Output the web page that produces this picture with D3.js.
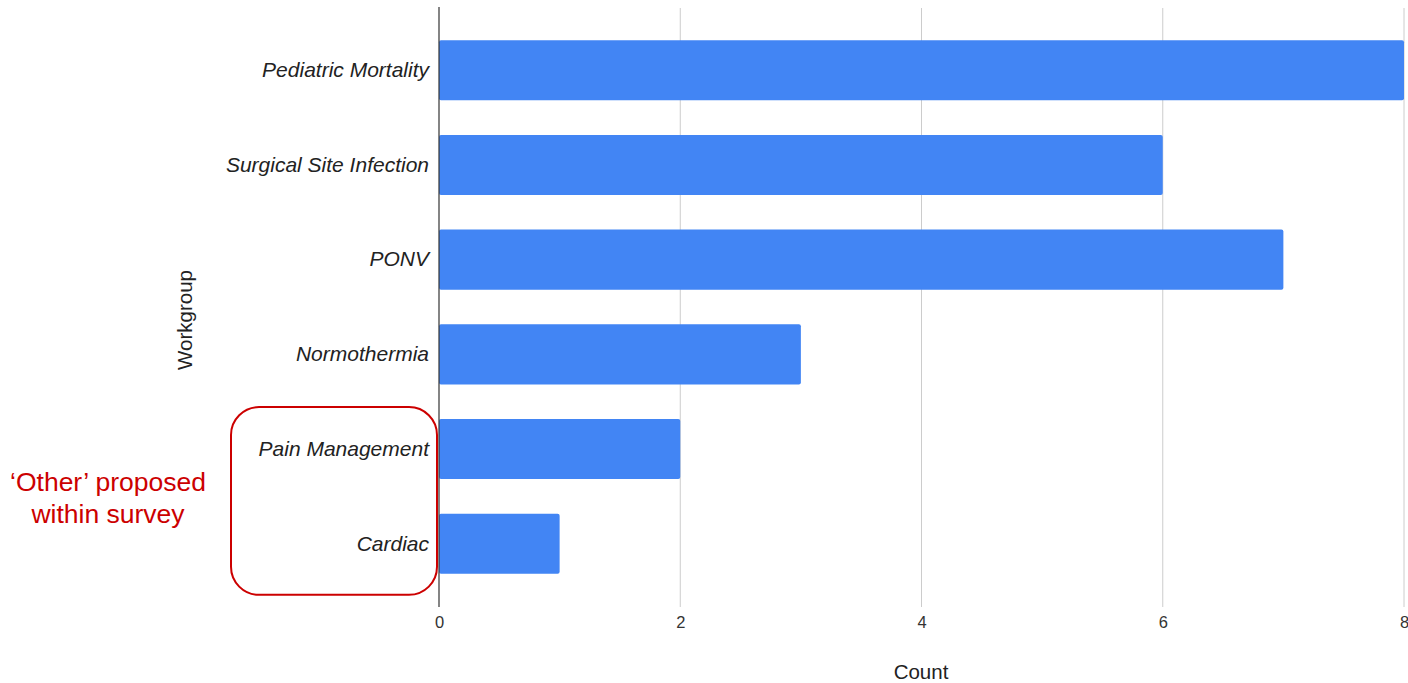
<!DOCTYPE html>
<html>
<head>
<meta charset="utf-8">
<script src="https://cdn.jsdelivr.net/npm/d3@7"></script>
<style>
  html, body { margin: 0; padding: 0; background: #fff; }
  svg { display: block; font-family: "Liberation Sans", Arial, sans-serif; }
  svg text { font-family: "Liberation Sans", Arial, sans-serif; }
</style>
</head>
<body>
<svg id="chart" width="1408" height="683"></svg>
<script>
// Workgroup survey counts
const categories = ["Pediatric Mortality", "Surgical Site Infection", "PONV", "Normothermia", "Pain Management", "Cardiac"];
const counts = [8, 6, 7, 3, 2, 1];
const xTicks = [0, 2, 4, 6, 8];
const noteLines = ["\u2018Other\u2019 proposed", "within survey"];
const otherGroup = ["Pain Management", "Cardiac"];

const FONT = "'Liberation Sans', Arial, sans-serif";
const svg = d3.select("#chart");

const x = d3.scaleLinear().domain([0, 8]).range([439, 1404]);
const y = d3.scaleBand().domain(categories).range([8, 606])
  .paddingInner(0.366).paddingOuter(0.34);

// vertical gridlines
svg.append("g")
  .selectAll("line")
  .data(xTicks.filter(d => d !== 0))
  .join("line")
  .attr("x1", d => x(d)).attr("x2", d => x(d))
  .attr("y1", 8).attr("y2", 607)
  .attr("stroke", "#cccccc").attr("stroke-width", 1);

// bars
svg.append("g")
  .selectAll("rect")
  .data(categories)
  .join("rect")
  .attr("x", x(0))
  .attr("y", d => y(d))
  .attr("width", (d, i) => x(counts[i]) - x(0))
  .attr("height", y.bandwidth())
  .attr("rx", 2)
  .attr("fill", "#4285f4");

// baseline axis at zero
svg.append("line")
  .attr("x1", x(0)).attr("x2", x(0))
  .attr("y1", 7).attr("y2", 607)
  .attr("stroke", "#333333").attr("stroke-width", 1.2);

// x tick labels
const xAxis = d3.axisBottom(x).tickValues(xTicks).tickSize(0).tickPadding(0);
const gx = svg.append("g").attr("transform", "translate(0,616)").call(xAxis);
gx.select(".domain").remove();
gx.selectAll("text")
  .attr("font-size", 16.5)
  .attr("fill", "#333333")
  .attr("font-family", FONT);

// category labels
const yAxis = d3.axisLeft(y).tickSize(0).tickPadding(10);
const gy = svg.append("g").attr("transform", `translate(${x(0)},0)`).call(yAxis);
gy.select(".domain").remove();
gy.selectAll("text")
  .attr("font-size", 21)
  .attr("font-style", "italic")
  .attr("fill", "#222222")
  .attr("font-family", FONT);

// axis titles
svg.append("text")
  .attr("x", 921).attr("y", 679)
  .attr("text-anchor", "middle")
  .attr("font-family", FONT)
  .attr("font-size", 20.5).attr("fill", "#222222")
  .text("Count");

svg.append("text")
  .attr("transform", "translate(192,320) rotate(-90)")
  .attr("text-anchor", "middle")
  .attr("font-family", FONT)
  .attr("font-size", 20.5).attr("fill", "#222222")
  .text("Workgroup");

// highlight around the 'Other' categories
const groupTop = y(otherGroup[0]);
const groupBottom = y(otherGroup[otherGroup.length - 1]) + y.bandwidth();
svg.append("rect")
  .attr("x", 231).attr("y", groupTop - 12)
  .attr("width", 206).attr("height", groupBottom - groupTop + 33)
  .attr("rx", 28)
  .attr("fill", "none")
  .attr("stroke", "#cc0000").attr("stroke-width", 2);

svg.append("g")
  .selectAll("text")
  .data(noteLines)
  .join("text")
  .attr("x", 108)
  .attr("y", (d, i) => 491 + i * 32)
  .attr("text-anchor", "middle")
  .attr("font-family", FONT)
  .attr("font-size", 26.5)
  .attr("fill", "#cc0000")
  .text(d => d);
</script>
</body>
</html>
